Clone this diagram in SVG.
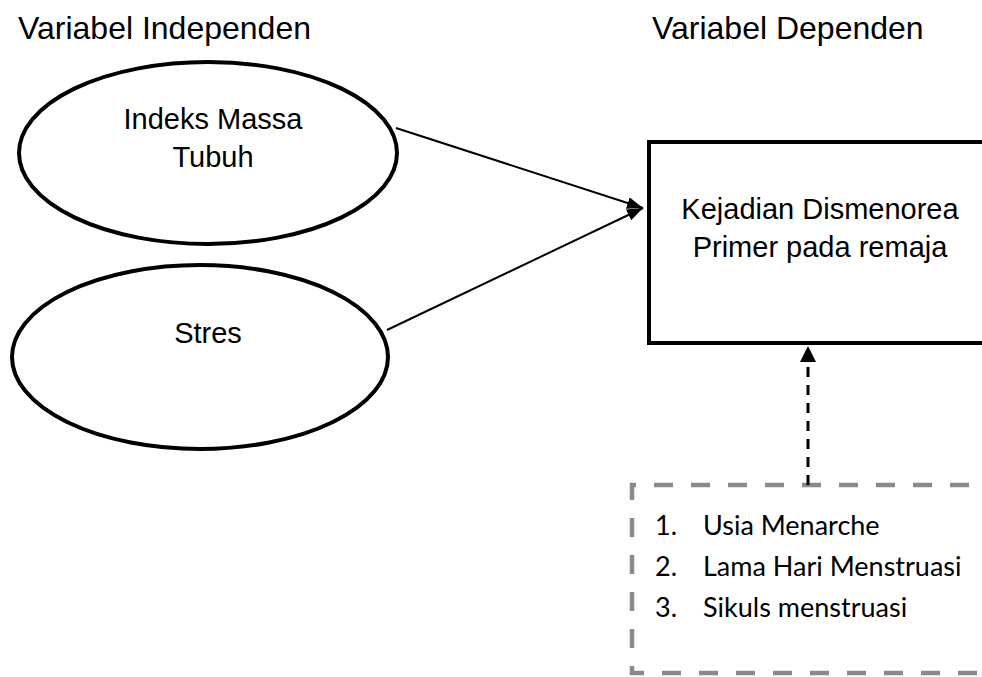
<svg xmlns="http://www.w3.org/2000/svg" width="982" height="677" viewBox="0 0 982 677">
<style>
.t{font-family:"Liberation Sans",Arial,sans-serif;fill:#000}
.title{font-size:32px}
.lbl{font-size:29px;text-anchor:middle}
.list{font-family:Lato,"Open Sans",sans-serif;font-size:27px;fill:#000}
.node{fill:#fff;stroke:#000;stroke-width:4}
.edge{stroke:#000;stroke-width:2;fill:none}
</style>
<defs>
<marker id="ah" viewBox="0 0 16 12" refX="16" refY="6" markerWidth="16" markerHeight="12" markerUnits="userSpaceOnUse" orient="auto">
<path d="M0,0 L16,6 L0,12 Z" fill="#000"/>
</marker>
</defs>
<rect width="982" height="677" fill="#fff"/>
<text class="t title" x="18" y="39">Variabel Independen</text>
<text class="t title" x="652" y="39">Variabel Dependen</text>
<g id="node-imt">
<ellipse class="node" cx="208" cy="153" rx="189" ry="91"/>
<text class="t lbl" x="213" y="129">Indeks Massa</text>
<text class="t lbl" x="213" y="167">Tubuh</text>
</g>
<g id="node-stres">
<ellipse class="node" cx="200" cy="357" rx="188" ry="92"/>
<text class="t lbl" x="208" y="343">Stres</text>
</g>
<g id="node-dismenorea">
<rect class="node" x="649" y="142" width="400" height="201"/>
<text class="t lbl" x="820" y="219">Kejadian Dismenorea</text>
<text class="t lbl" x="820" y="257">Primer pada remaja</text>
</g>
<g id="node-confounders">
<path d="M1000,485 H632 V673 H1000" fill="none" stroke="#8a8a8a" stroke-width="4.5" stroke-dasharray="19 18" stroke-dashoffset="6"/>
<text class="list" x="655" y="535">1.</text><text class="list" x="703" y="535">Usia Menarche</text>
<text class="list" x="655" y="576">2.</text><text class="list" x="703" y="576">Lama Hari Menstruasi</text>
<text class="list" x="655" y="617">3.</text><text class="list" x="703" y="617">Sikuls menstruasi</text>
</g>
<g id="connectors">
<line class="edge" x1="396" y1="128" x2="643" y2="208" marker-end="url(#ah)"/>
<line class="edge" x1="387" y1="330" x2="643" y2="208" marker-end="url(#ah)"/>
<line x1="808" y1="485" x2="808" y2="360" stroke="#000" stroke-width="3" stroke-dasharray="10 8"/>
<path d="M800,362 L808,346 L816,362 Z" fill="#000"/>
</g>
</svg>
